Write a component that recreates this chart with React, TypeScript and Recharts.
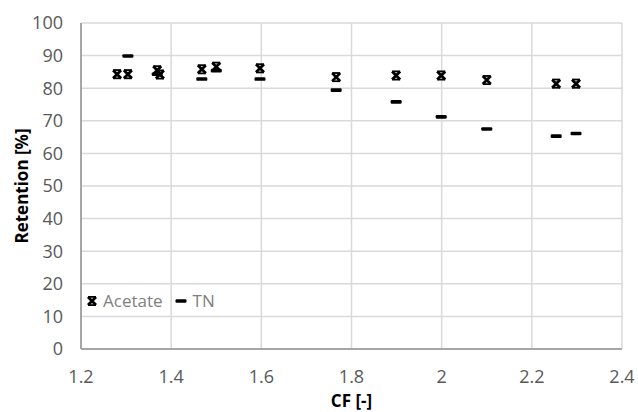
import * as React from "react"
import { CartesianGrid, Scatter, ScatterChart, XAxis, YAxis } from "recharts"

// CF [-] / Retention [%]
const acetateCF = [1.28, 1.304, 1.369, 1.375, 1.468, 1.5, 1.597, 1.766, 1.899, 1.999, 2.1, 2.254, 2.298]
const acetateRetention = [84.3, 84.3, 85.5, 84.2, 85.8, 86.6, 86.1, 83.4, 83.9, 83.9, 82.5, 81.4, 81.4]

const tnCF = [1.304, 1.369, 1.468, 1.5, 1.597, 1.766, 1.899, 1.999, 2.1, 2.254, 2.298]
const tnRetention = [89.9, 84.3, 82.8, 85.4, 82.8, 79.4, 75.8, 71.2, 67.5, 65.3, 66.1]

const xTicks = [1.2, 1.4, 1.6, 1.8, 2, 2.2, 2.4]
const yTicks = [0, 10, 20, 30, 40, 50, 60, 70, 80, 90, 100]

const acetateData = acetateCF.map((cf, i) => ({ cf, retention: acetateRetention[i] }))
const tnData = tnCF.map((cf, i) => ({ cf, retention: tnRetention[i] }))

const FONT = "'Open Sans', sans-serif"
const tickStyle = { fontSize: 18, fill: "#595959", fontFamily: FONT }

// Excel-ish "x" marker (heavy)
const AcetateMarker = (props: any) => {
  const { cx, cy } = props
  if (cx == null || cy == null) return null
  return (
    <g>
      <path
        d={`M${cx - 4},${cy - 4} L${cx + 4},${cy + 4} M${cx + 4},${cy - 4} L${cx - 4},${cy + 4}`}
        stroke="#000"
        strokeWidth={2.8}
      />
      <rect x={cx - 4} y={cy - 5} width={8} height={1.8} fill="#000" />
      <rect x={cx - 4} y={cy + 3.2} width={8} height={1.8} fill="#000" />
    </g>
  )
}

// Excel dash marker
const TnMarker = (props: any) => {
  const { cx, cy } = props
  if (cx == null || cy == null) return null
  return <rect x={cx - 5.5} y={cy - 1.8} width={11} height={3.6} rx={1.2} fill="#000" />
}

export default function App() {
  return (
    <div style={{ position: "absolute", left: 0, top: 0, width: 638, height: 412, background: "#fff" }}>
      <ScatterChart width={638} height={412} margin={{ top: 23, right: 16, left: 0, bottom: 0 }}>
        <CartesianGrid stroke="#d9d9d9" strokeWidth={1.5} />
        <XAxis
          type="number"
          dataKey="cf"
          domain={[1.2, 2.4]}
          ticks={xTicks}
          tickFormatter={(v: number) => String(Number(v.toFixed(1)))}
          tick={tickStyle}
          tickLine={false}
          tickSize={6}
          tickMargin={15}
          axisLine={{ stroke: "#a6a6a6", strokeWidth: 2 }}
          height={63}
          label={{
            value: "CF [-]",
            position: "insideBottom",
            offset: 5,
            style: { fontSize: 17, fontWeight: 700, fill: "#000", fontFamily: FONT },
          }}
        />
        <YAxis
          type="number"
          dataKey="retention"
          domain={[0, 100]}
          ticks={yTicks}
          tick={tickStyle}
          tickLine={false}
          tickSize={6}
          tickMargin={12}
          axisLine={{ stroke: "#a6a6a6", strokeWidth: 2 }}
          width={81}
          label={{
            value: "Retention [%]",
            angle: -90,
            position: "insideLeft",
            offset: 22,
            style: { fontSize: 17, fontWeight: 700, fill: "#000", fontFamily: FONT, textAnchor: "middle" },
          }}
        />
        <Scatter name="Acetate" data={acetateData} shape={AcetateMarker} isAnimationActive={false} />
        <Scatter name="TN" data={tnData} shape={TnMarker} isAnimationActive={false} />
      </ScatterChart>
      <div
        style={{
          position: "absolute",
          left: 86,
          top: 290,
          display: "flex",
          alignItems: "center",
          fontFamily: FONT,
          fontSize: 17,
          color: "#7f7f7f",
          lineHeight: "22px",
        }}
      >
        <svg width={12} height={12} style={{ marginRight: 5 }}>
          <AcetateMarker cx={6} cy={6} />
        </svg>
        <span>Acetate</span>
        <svg width={12} height={12} style={{ marginLeft: 12, marginRight: 6 }}>
          <TnMarker cx={6} cy={6} />
        </svg>
        <span>TN</span>
      </div>
    </div>
  )
}
